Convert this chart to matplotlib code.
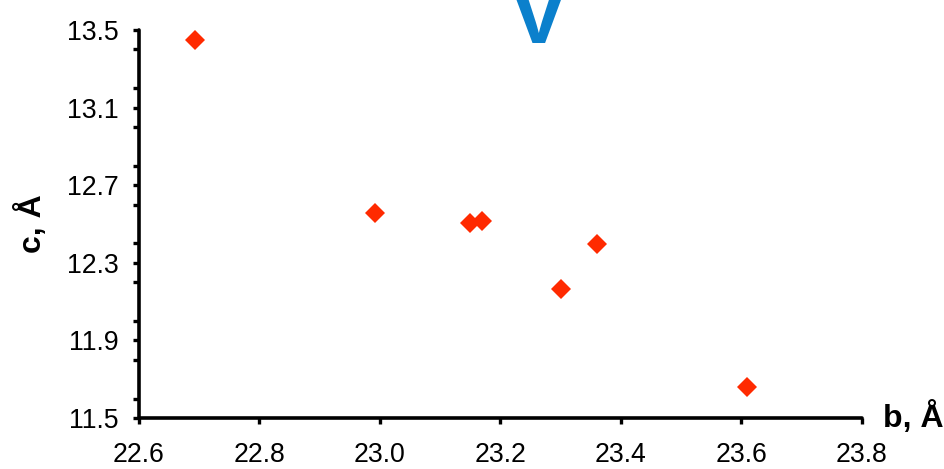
import matplotlib
matplotlib.use("Agg")
import matplotlib.pyplot as plt
from matplotlib.ticker import MultipleLocator, FixedLocator

plt.rcParams['font.family'] = ['Liberation Sans', 'DejaVu Sans']

# lattice parameters
b_vals = [22.693, 22.991, 23.150, 23.170, 23.360, 23.300, 23.609]
c_vals = [13.447, 12.556, 12.505, 12.516, 12.395, 12.163, 11.662]

x_ticks = [22.6, 22.8, 23.0, 23.2, 23.4, 23.6, 23.8]
x_ticklabels = ["22.6", "22.8", "23.0", "23.2", "23.4", "23.6", "23.8"]
y_ticks = [11.5, 11.9, 12.3, 12.7, 13.1, 13.5]
y_ticklabels = ["11.5", "11.9", "12.3", "12.7", "13.1", "13.5"]

fig = plt.figure(figsize=(9.45, 4.69), dpi=100)
ax = fig.add_axes([139 / 945, 51 / 469, 723 / 945, 388 / 469])

ax.plot(b_vals, c_vals, linestyle='none', marker='D', markersize=10,
        color='#FF2A00', markeredgewidth=0, clip_on=False)

ax.set_xlim(22.6, 23.8)
ax.set_ylim(11.5, 13.5)
ax.xaxis.set_major_locator(FixedLocator(x_ticks))
ax.set_xticklabels(x_ticklabels)
ax.yaxis.set_major_locator(FixedLocator(y_ticks))
ax.set_yticklabels(y_ticklabels)
ax.yaxis.set_minor_locator(MultipleLocator(0.2))

for side in ('top', 'right'):
    ax.spines[side].set_visible(False)
for side in ('left', 'bottom'):
    ax.spines[side].set_linewidth(2.6)
    ax.spines[side].set_capstyle('round')

ax.tick_params(axis='both', which='both', direction='out', length=4.5,
               width=2.4, labelsize=19.2, color='black')
ax.tick_params(axis='x', pad=13)
ax.tick_params(axis='y', pad=10)

ax.set_ylabel("c, Å", fontsize=23, fontweight='bold', labelpad=14)
ax.text(1.0 + 21 / 723, 0.0, "b, Å", transform=ax.transAxes,
        fontsize=23, fontweight='bold', ha='left', va='center')

# panel letter at the top edge
fig.text(538 / 945, 1 - 43 / 469, "V", color='#0B80CC', fontsize=62,
         fontweight='bold', ha='center', va='baseline')

fig.savefig("out.png", dpi=100)
